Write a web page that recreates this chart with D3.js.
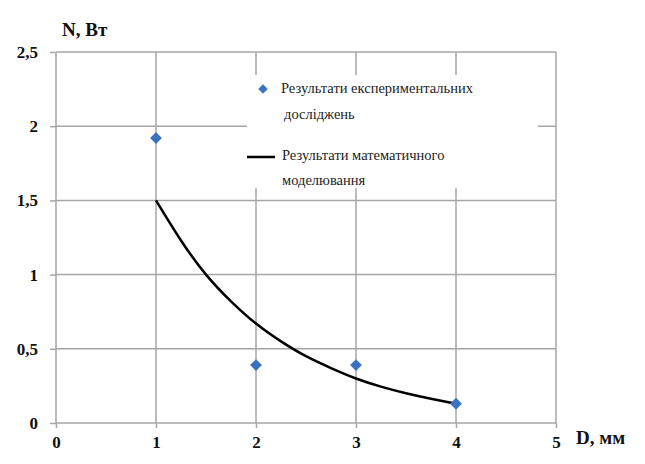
<!DOCTYPE html>
<html>
<head>
<meta charset="utf-8">
<script src="https://cdn.jsdelivr.net/npm/d3@7"></script>
<style>
  body { margin: 0; background: #fff; }
  svg text { font-family: "Liberation Serif", "DejaVu Serif", serif; }
  .tick text { font-weight: bold; font-size: 17px; fill: #111; }
  .legend text { font-size: 14.5px; fill: #222; }
</style>
</head>
<body>
<svg id="chart" width="645" height="464"></svg>
<script>
const margin = { top: 52, right: 89, bottom: 41, left: 56 };

// experimental results
const expD = [1, 2, 3, 4];
const expN = [1.92, 0.39, 0.39, 0.13];

// mathematical model
const modelD = [1, 1.25, 1.5, 1.75, 2, 2.25, 2.5, 2.75, 3, 3.25, 3.5, 3.75, 4];
const modelN = [1.5, 1.23, 1.0, 0.82, 0.67, 0.55, 0.45, 0.37, 0.3, 0.245, 0.2, 0.163, 0.13];

const xTicks = [0, 1, 2, 3, 4, 5];
const yTicks = [0, 0.5, 1, 1.5, 2, 2.5];
const legendLabels = [
  ["Результати експериментальних", "досліджень"],
  ["Результати математичного", "моделювання"],
];

const svg = d3.select("#chart");
const width = svg.attr("width") - margin.left - margin.right;
const height = svg.attr("height") - margin.top - margin.bottom;

const g = svg.append("g").attr("transform", `translate(${margin.left},${margin.top})`);

const x = d3.scaleLinear().domain([0, 5]).range([0, width]);
const y = d3.scaleLinear().domain([0, 2.5]).range([height, 0]);
const fmt = (d) => String(d).replace(".", ",");

const gridColor = "#a6a6a6";

// grid
g.append("g")
  .selectAll("line")
  .data(xTicks)
  .join("line")
  .attr("x1", (d) => x(d)).attr("x2", (d) => x(d))
  .attr("y1", 0).attr("y2", height)
  .attr("stroke", gridColor).attr("stroke-width", 1.5);

g.append("g")
  .selectAll("line")
  .data(yTicks)
  .join("line")
  .attr("x1", 0).attr("x2", width)
  .attr("y1", (d) => y(d)).attr("y2", (d) => y(d))
  .attr("stroke", gridColor).attr("stroke-width", 1.5);

// axes
const xAxis = g.append("g")
  .attr("transform", `translate(0,${height})`)
  .call(d3.axisBottom(x).tickValues(xTicks).tickFormat(fmt).tickSize(5).tickPadding(8));
const yAxis = g.append("g")
  .call(d3.axisLeft(y).tickValues(yTicks).tickFormat(fmt).tickSize(6).tickPadding(12));
[xAxis, yAxis].forEach((a) => {
  a.attr("font-family", null);
  a.select(".domain").remove();
  a.selectAll(".tick line").attr("stroke", gridColor).attr("stroke-width", 1.5);
});

// legend box (covers grid)
const legend = g.append("g").attr("class", "legend");
legend.append("rect")
  .attr("x", 191).attr("y", 23).attr("width", 291).attr("height", 113)
  .attr("fill", "#fff");

// model curve
const line = d3.line()
  .x((d, i) => x(modelD[i]))
  .y((d) => y(d))
  .curve(d3.curveNatural);
g.append("path")
  .datum(modelN)
  .attr("d", line)
  .attr("fill", "none")
  .attr("stroke", "#000")
  .attr("stroke-width", 2.5);

// experimental points
const diamond = d3.symbol().type(d3.symbolSquare).size(70);
g.append("g")
  .selectAll("path")
  .data(expN)
  .join("path")
  .attr("transform", (d, i) => `translate(${x(expD[i])},${y(d)}) rotate(45)`)
  .attr("d", diamond)
  .attr("fill", "#3b72c0");

// legend entries
legend.append("path")
  .attr("transform", "translate(207,37) rotate(45)")
  .attr("d", d3.symbol().type(d3.symbolSquare).size(45))
  .attr("fill", "#3b72c0");
legend.append("line")
  .attr("x1", 191).attr("x2", 219).attr("y1", 105).attr("y2", 105)
  .attr("stroke", "#000").attr("stroke-width", 2.5);

const rows = [[225, 41, 228, 67], [226, 108, 226, 133]];
legendLabels.forEach((lab, i) => {
  legend.append("text").attr("x", rows[i][0]).attr("y", rows[i][1]).text(lab[0]);
  legend.append("text").attr("x", rows[i][2]).attr("y", rows[i][3]).text(lab[1]);
});

// axis titles
svg.append("text")
  .attr("x", 62).attr("y", 36)
  .attr("font-weight", "bold").attr("font-size", 19).attr("fill", "#111")
  .text("N, Вт");
svg.append("text")
  .attr("x", 576).attr("y", 444)
  .attr("font-weight", "bold").attr("font-size", 19).attr("fill", "#111")
  .text("D, мм");
</script>
</body>
</html>
